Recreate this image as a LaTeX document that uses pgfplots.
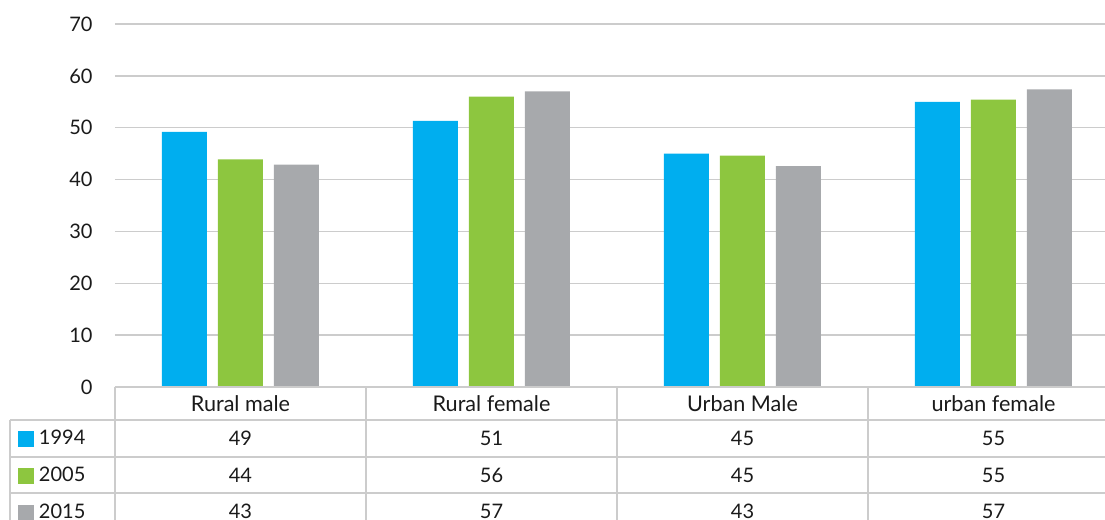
\documentclass[border=0pt]{standalone}
\usepackage{pgfplots}
\pgfplotsset{compat=1.18}
\usepackage{fontspec}
\setmainfont{Lato}
\definecolor{cblue}{HTML}{00AEEF}
\definecolor{cgreen}{HTML}{8DC63F}
\definecolor{cgray}{HTML}{A7A9AC}
\definecolor{cline}{HTML}{CCCCCC}
\definecolor{ctext}{HTML}{1A1A1A}
\begin{document}
\begin{tikzpicture}[font=\fontsize{10}{12}\selectfont, text=ctext]
\useasboundingbox (-57.5pt,-66.5pt) rectangle (495pt,193.5pt);
\clip (-57.5pt,-66.5pt) rectangle (495pt,193.5pt);
\begin{axis}[
  at={(0pt,0pt)}, anchor=south west,
  scale only axis, width=502pt, height=181.5pt,
  xmin=-0.5, xmax=3.5, ymin=0, ymax=70,
  ybar=5.5pt, bar width=22.5pt,
  xtick={0,1,2,3},
  xticklabels={Rural male, Rural female, Urban Male, urban female},
  xticklabel style={anchor=center, inner sep=0pt, yshift=-8.25pt, font=\fontsize{10.8}{13}\selectfont},
  ytick={0,10,...,70},
  yticklabel style={anchor=east, inner sep=0pt, xshift=-11pt},
  /pgf/number format/assume math mode=true,
  ymajorgrids, grid style={cline, line width=0.75pt},
  axis line style={draw=none},
  tick style={draw=none},
  major tick length=0pt,
  clip=false,
  legend cell align=left,
  legend style={at={(axis description cs:0,0)}, anchor=north west,
    xshift=-48.5pt, yshift=-16.5pt, draw=none, fill=none,
    inner sep=0pt, outer sep=0pt, row sep=0pt, column sep=2.5pt,
    nodes={inner sep=0pt, minimum height=18.5pt}},
  legend image code/.code={\fill[#1] (0pt,-4pt) rectangle (8pt,4pt);},
]
\addplot[fill=cblue, draw=none] coordinates {(0,49.2) (1,51.3) (2,45.0) (3,55.0)};
\addlegendentry{1994}
\addplot[fill=cgreen, draw=none] coordinates {(0,43.9) (1,56.0) (2,44.6) (3,55.4)};
\addlegendentry{2005}
\addplot[fill=cgray, draw=none] coordinates {(0,42.9) (1,57.0) (2,42.6) (3,57.4)};
\addlegendentry{2015}
\end{axis}
% data table grid
\begin{scope}[cline, line width=0.75pt]
\draw (0pt,0pt) -- (502pt,0pt);
\draw (-52.5pt,-16.5pt) -- (502pt,-16.5pt);
\draw (-52.5pt,-35pt) -- (502pt,-35pt);
\draw (-52.5pt,-53pt) -- (502pt,-53pt);
\draw (-52.5pt,-16.5pt) -- (-52.5pt,-80pt);
\foreach \x in {0,125.5,251,376.5,502} \draw (\x pt,0pt) -- (\x pt,-80pt);
\end{scope}
% data table values
\foreach \v [count=\i from 0] in {49,51,45,55} \node[inner sep=0pt] at (62.75pt+125.5pt*\i,-25.75pt) {\v};
\foreach \v [count=\i from 0] in {44,56,45,55} \node[inner sep=0pt] at (62.75pt+125.5pt*\i,-44pt) {\v};
\foreach \v [count=\i from 0] in {43,57,43,57} \node[inner sep=0pt] at (62.75pt+125.5pt*\i,-62.25pt) {\v};
\end{tikzpicture}
\end{document}
